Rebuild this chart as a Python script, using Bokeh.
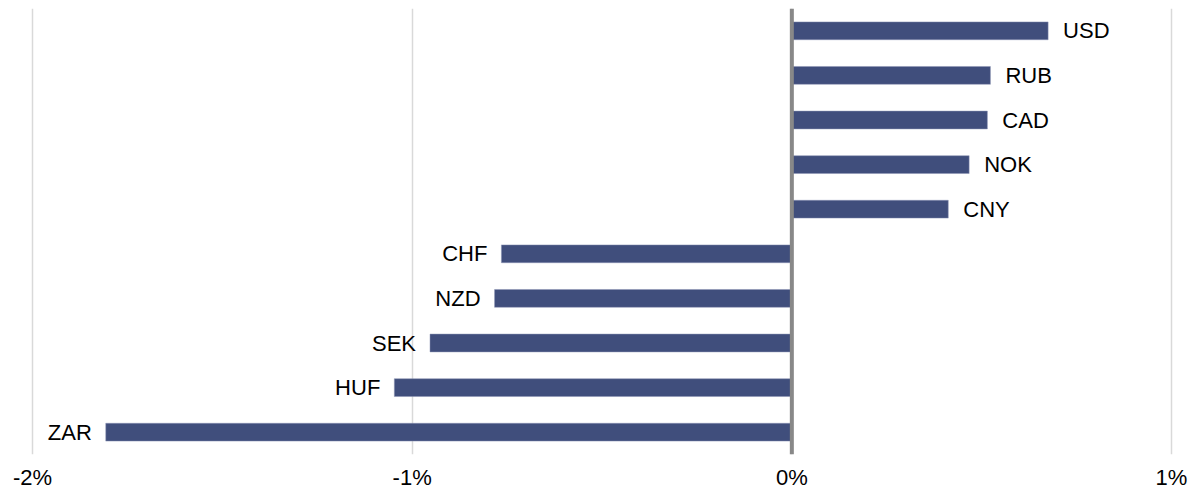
from bokeh.plotting import figure
from bokeh.models import Range1d, FactorRange, FixedTicker, Span, ColumnDataSource
from bokeh.core.properties import value
from bokeh.embed import file_html
from bokeh.resources import INLINE

currencies = ["USD", "RUB", "CAD", "NOK", "CNY", "CHF", "NZD", "SEK", "HUF", "ZAR"]
changes = [0.675, 0.523, 0.515, 0.467, 0.412, -0.765, -0.783, -0.953, -1.047, -1.807]
tick_values = [-2, -1, 0, 1]
tick_labels = ["-2%", "-1%", "0%", "1%"]

FONT = "Liberation Sans"

p = figure(width=1189, height=492, output_backend="svg", toolbar_location=None,
           x_range=Range1d(-2.0105, 1.0105),
           y_range=FactorRange(factors=list(reversed(currencies)), range_padding=0),
           min_border_left=28, min_border_right=14, min_border_top=8, min_border_bottom=30)
p.outline_line_color = None
p.background_fill_color = "white"
p.border_fill_color = "white"

src = ColumnDataSource(dict(cur=currencies, val=changes))
p.hbar(y="cur", left=0, right="val", height=0.4, source=src,
       fill_color="#404E7C", line_color="#8C95B5", line_width=0.5)

pos = [i for i, v in enumerate(changes) if v >= 0]
neg = [i for i, v in enumerate(changes) if v < 0]
p.text(x=[changes[i] for i in pos], y=[currencies[i] for i in pos],
       text=[currencies[i] for i in pos], x_offset=15, text_align="left",
       text_baseline="middle", text_font=value(FONT), text_font_size="22px", text_color="#000000")
p.text(x=[changes[i] for i in neg], y=[currencies[i] for i in neg],
       text=[currencies[i] for i in neg], x_offset=-14, text_align="right",
       text_baseline="middle", text_font=value(FONT), text_font_size="22px", text_color="#000000")

p.add_layout(Span(location=0, dimension="height", line_color="#888888", line_width=4))

p.xaxis.ticker = FixedTicker(ticks=tick_values)
p.xaxis.major_label_overrides = {v: l for v, l in zip(tick_values, tick_labels)}
p.xaxis.axis_line_color = None
p.xaxis.major_tick_line_color = None
p.xaxis.minor_tick_line_color = None
p.xaxis.major_tick_out = 0
p.xaxis.major_tick_in = 0
p.xaxis.major_label_standoff = 10
p.xaxis.major_label_text_line_height = 1.0
p.xaxis.major_label_text_font = FONT
p.xaxis.major_label_text_font_size = "22px"
p.xaxis.major_label_text_color = "#000000"
p.yaxis.visible = False
p.xgrid.grid_line_color = "#D9D9D9"
p.xgrid.grid_line_width = 1.5
p.ygrid.grid_line_color = None

open("out.html", "w").write(file_html(p, INLINE))
